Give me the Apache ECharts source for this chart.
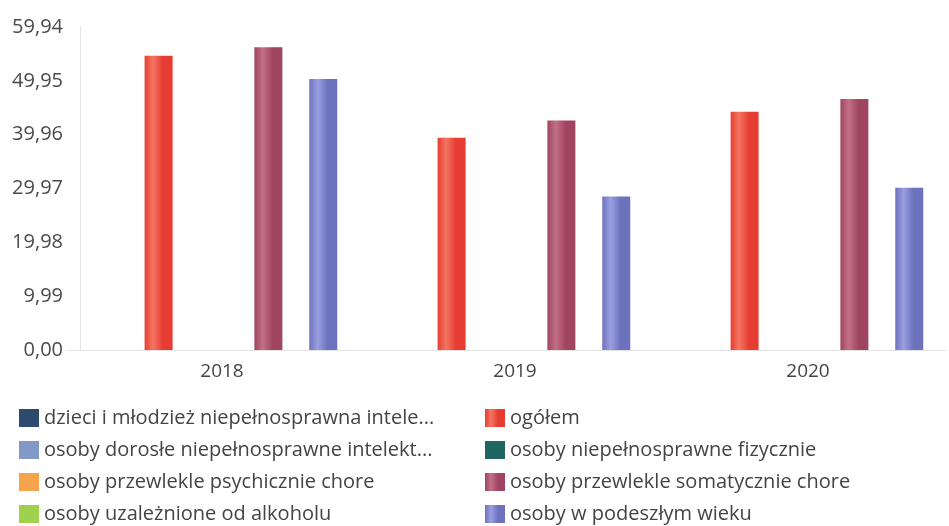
<!DOCTYPE html>
<html>
<head>
<meta charset="utf-8">
<script src="https://cdn.jsdelivr.net/npm/echarts@6/dist/echarts.min.js"></script>
<style>
html,body{margin:0;padding:0;background:#fff;}
#chart{width:949px;height:526px;}
</style>
</head>
<body>
<div id="chart"></div>
<script>
// ---- data ----
var years = ['2018', '2019', '2020'];
var yTickLabels = ['0,00', '9,99', '19,98', '29,97', '39,96', '49,95', '59,94'];

var seriesNames = [
  'dzieci i młodzież niepełnosprawna intelektualnie',
  'ogółem',
  'osoby dorosłe niepełnosprawne intelektualnie',
  'osoby niepełnosprawne fizycznie',
  'osoby przewlekle psychicznie chore',
  'osoby przewlekle somatycznie chore',
  'osoby uzależnione od alkoholu',
  'osoby w podeszłym wieku'
];
var legendLabels = [
  'dzieci i młodzież niepełnosprawna intele...',
  'ogółem',
  'osoby dorosłe niepełnosprawne intelekt...',
  'osoby niepełnosprawne fizycznie',
  'osoby przewlekle psychicznie chore',
  'osoby przewlekle somatycznie chore',
  'osoby uzależnione od alkoholu',
  'osoby w podeszłym wieku'
];

var dzieci = [null, null, null];
var ogolem = [54.6, 39.4, 44.2];
var dorosle = [null, null, null];
var fizycznie = [null, null, null];
var psychicznie = [null, null, null];
var somatycznie = [56.2, 42.6, 46.6];
var uzaleznione = [null, null, null];
var podeszly = [50.3, 28.5, 30.1];

// ---- styling ----
function grad(edge, light) {
  return new echarts.graphic.LinearGradient(0, 0, 1, 0, [
    {offset: 0, color: edge},
    {offset: 0.3, color: light},
    {offset: 0.65, color: edge},
    {offset: 1, color: edge}
  ]);
}
var colors = {
  dzieci: '#2d4b6e',
  ogolem: '#eb4a3c',
  dorosle: '#8298c6',
  fizycznie: '#1f6660',
  psychicznie: '#f5a34c',
  somatycznie: '#ad5670',
  uzaleznione: '#9fd14e',
  podeszly: '#7b80c9'
};

var labelMap = {};
seriesNames.forEach(function (n, i) { labelMap[n] = legendLabels[i]; });

var BW = 28;
function bar(name, data, color, fill, stack) {
  var s = {
    name: name,
    type: 'bar',
    data: data,
    barWidth: BW,
    barGap: '96%',
    barCategoryGap: '15%',
    itemStyle: {color: fill || color},
    emphasis: {disabled: true}
  };
  if (stack) s.stack = stack;
  return s;
}

var chart = echarts.init(document.getElementById('chart'));
var legendText = {fontFamily: 'Open Sans', fontSize: 20, color: '#444'};
var legendBase = {
  orient: 'vertical', top: 408, icon: 'rect', padding: 0,
  itemWidth: 20, itemHeight: 18, itemGap: 12,
  formatter: function (n) { return labelMap[n]; },
  textStyle: legendText, selectedMode: false, height: 118
};
chart.setOption({
  animation: false,
  color: [colors.dzieci, colors.ogolem, colors.dorosle, colors.fizycznie,
          colors.psychicznie, colors.somatycznie, colors.uzaleznione, colors.podeszly],
  grid: {left: 67, right: 3, top: 27, bottom: 176, containLabel: false},
  legend: [
    Object.assign({}, legendBase, {left: 19,
      data: [seriesNames[0], seriesNames[2], seriesNames[4], seriesNames[6]]}),
    Object.assign({}, legendBase, {left: 485,
      data: [seriesNames[1], seriesNames[3], seriesNames[5], seriesNames[7]]})
  ],
  xAxis: {
    type: 'category',
    data: years,
    axisLine: {show: true, lineStyle: {color: '#e3e3e3'}},
    axisTick: {show: false},
    axisLabel: {fontFamily: 'Open Sans', fontSize: 19, color: '#444', margin: 12, padding: [0, 0, 0, 17]}
  },
  yAxis: {
    type: 'value',
    min: 0, max: 59.94, interval: 9.99,
    offset: -13,
    splitLine: {show: false},
    axisLine: {show: true, lineStyle: {color: '#e3e3e3'}},
    axisTick: {show: false},
    axisLabel: {
      fontFamily: 'Open Sans', fontSize: 20, color: '#4a4a4a', margin: 17,
      formatter: function (v) { return yTickLabels[Math.round(v / 9.99)]; }
    }
  },
  series: [
    bar(seriesNames[0], dzieci, colors.dzieci, null, 'inne'),
    bar(seriesNames[1], ogolem, colors.ogolem, grad('#e63d33', '#f47560')),
    bar(seriesNames[3], fizycznie, colors.fizycznie),
    bar(seriesNames[5], somatycznie, colors.somatycznie, grad('#9f4562', '#c27087')),
    bar(seriesNames[7], podeszly, colors.podeszly, grad('#6d72bd', '#9a9fe0')),
    bar(seriesNames[2], dorosle, colors.dorosle, null, 'inne'),
    bar(seriesNames[4], psychicznie, colors.psychicznie, null, 'inne'),
    bar(seriesNames[6], uzaleznione, colors.uzaleznione, null, 'inne')
  ]
});
</script>
</body>
</html>
